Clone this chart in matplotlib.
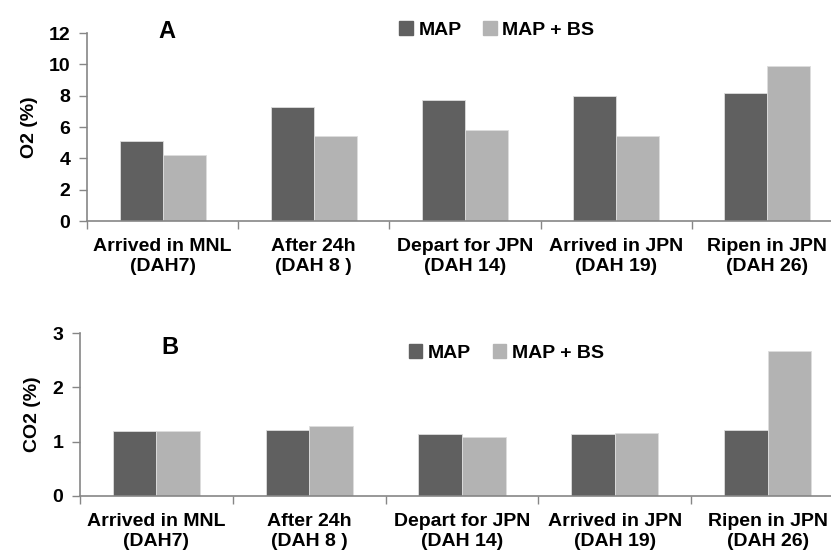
import matplotlib
matplotlib.use("Agg")
import matplotlib.pyplot as plt
from matplotlib.patches import Patch

# Дані
categories = ["Arrived in MNL\n(DAH7)", "After 24h\n(DAH 8 )", "Depart for JPN\n(DAH 14)",
              "Arrived in JPN\n(DAH 19)", "Ripen in JPN\n(DAH 26)"]
o2_map = [5.1, 7.3, 7.7, 8.0, 8.2]
o2_map_bs = [4.2, 5.4, 5.8, 5.4, 9.9]
co2_map = [1.19, 1.21, 1.14, 1.14, 1.22]
co2_map_bs = [1.20, 1.28, 1.08, 1.16, 2.67]
series_names = ["MAP", "MAP + BS"]

dark = "#606060"
light = "#b3b3b3"
axis_col = "#868686"

plt.rcParams['font.family'] = ['Liberation Sans', 'DejaVu Sans']
plt.rcParams['font.weight'] = 'bold'
fs = 14

W, H = 831, 560
fig = plt.figure(figsize=(W / 100, H / 100), dpi=100)

ax1 = fig.add_axes([87 / W, (H - 221) / H, 756 / W, 188 / H])
ax2 = fig.add_axes([80 / W, (H - 496) / H, 764 / W, 163 / H])


def draw_panel(ax, v1, v2, ymax, ylabel, letter, letter_pos, leg_anchor):
    x = list(range(len(categories)))
    w = 0.285
    ax.bar([i - w / 2 for i in x], v1, width=w, color=dark, edgecolor="#dddddd", linewidth=0.6)
    ax.bar([i + w / 2 for i in x], v2, width=w, color=light, edgecolor="#dddddd", linewidth=0.6)
    ax.set_xlim(-0.5, len(categories) - 0.5)
    ax.set_ylim(0, ymax)
    for s in ["top", "right"]:
        ax.spines[s].set_visible(False)
    for s in ["left", "bottom"]:
        ax.spines[s].set_color(axis_col)
        ax.spines[s].set_linewidth(1.2)
    ax.set_xticks([i - 0.5 for i in range(len(categories) + 1)])
    ax.set_xticklabels([])
    ax.tick_params(axis="x", which="major", length=6, color=axis_col, width=1)
    ax.set_xticks(x, minor=True)
    ax.set_xticklabels(categories, minor=True, fontsize=fs, fontweight="bold", linespacing=1.25)
    ax.tick_params(axis="x", which="minor", length=0, pad=12)
    ax.tick_params(axis="y", length=6, color=axis_col, width=1, labelsize=fs, pad=6)
    for lab in ax.get_yticklabels():
        lab.set_fontweight("bold")
    ax.set_ylabel(ylabel, fontsize=fs, fontweight="bold", labelpad=8)
    ax.text(letter_pos[0], letter_pos[1], letter, transform=ax.transAxes, fontsize=17,
            fontweight="bold", ha="center", va="center")
    handles = [Patch(color=dark), Patch(color=light)]
    ax.legend(handles, series_names, loc="center", bbox_to_anchor=leg_anchor, ncol=2,
              frameon=False, handlelength=0.7, handleheight=0.7,
              handletextpad=0.3, columnspacing=1.1, prop={"weight": "bold", "size": fs})


draw_panel(ax1, o2_map, o2_map_bs, 12, "O2 (%)", "A", (0.106, 1.01), (0.542, 1.016))
ax1.set_yticks(range(0, 13, 2))
draw_panel(ax2, co2_map, co2_map_bs, 3, "CO2 (%)", "B", (0.118, 0.908), (0.558, 0.877))
ax2.set_yticks(range(0, 4))

fig.savefig("out.png", dpi=100)
